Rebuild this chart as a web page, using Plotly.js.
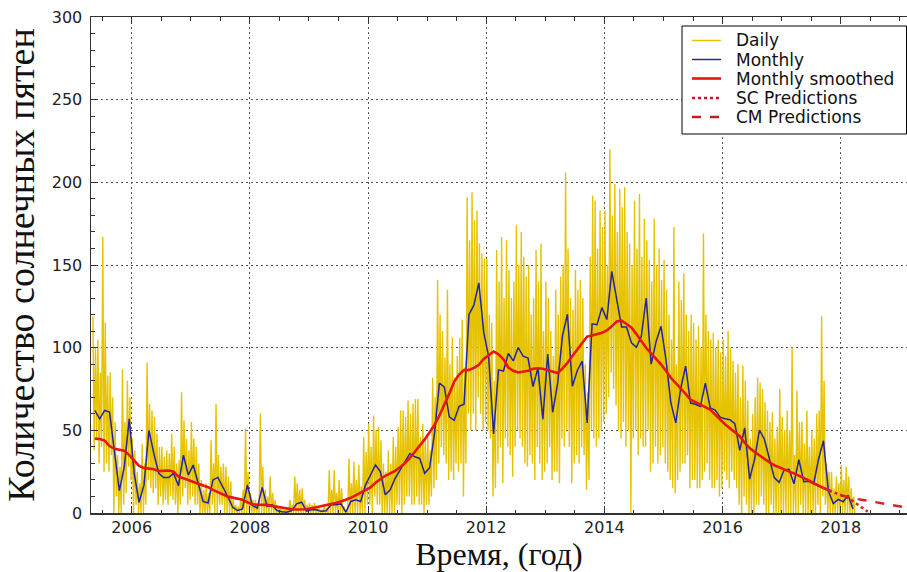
<!DOCTYPE html>
<html><head><meta charset="utf-8">
<script src="https://cdn.plot.ly/plotly-3.0.1.min.js"></script>
<style>html,body{margin:0;padding:0;background:#fff;overflow:hidden}</style>
</head><body><div id="chart" style="width:907px;height:572px"></div>
<script>
// ---- DATA ----
// Daily sunspot number, sampled 4 times per month (May 2005 .. Mar 2018)
const dailyStart = 2005 + 4/12 + 1/96;
const dailyStep = 1/48;
const dailyValues = [
  // 2005 May-Dec
  119,38,100,45, 105,30,85,40, 167,25,115,30, 83,25,85,35, 70,0,55,10, 35,0,28,0, 87,5,55,12, 80,28,70,20,
  // 2006
  45,0,38,5, 25,0,18,0, 42,0,30,5, 91,20,66,15, 62,12,58,15, 48,5,40,10, 40,5,34,8, 38,5,36,10, 48,8,40,5, 30,0,32,5, 73,10,56,15, 45,5,38,8,
  // 2007
  55,10,45,5, 40,5,30,0, 20,0,14,0, 18,0,12,0, 44,5,30,0, 66,0,35,5, 28,5,30,0, 28,0,22,0, 19,0,8,0, 5,0,4,0, 8,0,14,0, 51,0,25,0,
  // 2008
  12,0,8,0, 8,0,6,0, 60,0,28,0, 14,0,10,0, 22,0,12,0, 8,0,4,0, 4,0,2,0, 2,0,3,0, 8,0,5,0, 22,0,18,0, 14,0,15,0, 8,0,5,0,
  // 2009
  6,0,5,0, 6,0,4,0, 3,0,2,0, 5,0,3,0, 26,0,14,0, 26,0,12,0, 20,0,15,0, 4,0,2,0, 33,0,18,0, 31,0,20,0, 29,0,16,0, 46,0,37,5,
  // 2010
  54,5,40,0, 59,10,50,5, 52,5,44,0, 30,0,25,0, 38,0,30,0, 46,0,40,5, 52,5,62,0, 62,5,58,10, 68,10,60,5, 66,5,69,10, 69,5,46,5, 54,0,45,5,
  // 2011
  46,5,38,10, 82,15,70,20, 141,30,120,40, 110,35,94,30, 135,20,90,25, 106,20,82,30, 95,25,106,30, 117,10,88,30, 191,60,165,50, 194,60,177,50, 183,70,163,60, 157,50,154,55,
  // 2012
  154,50,120,45, 115,10,80,15, 159,30,140,40, 167,18,130,45, 165,40,147,35, 130,22,140,40, 174,50,150,45, 170,40,155,30, 143,28,150,35, 120,30,130,20, 159,40,140,30, 163,20,110,25,
  // 2013
  140,30,130,40, 110,20,95,25, 135,25,120,18, 143,45,150,40, 206,50,160,40, 130,18,123,30, 147,35,135,30, 141,40,130,35, 90,14,73,20, 155,50,192,45, 189,40,160,45, 183,50,173,55,
  // 2014
  183,60,150,70, 220,85,180,75, 199,65,170,50, 196,45,185,55, 197,40,170,50, 163,0,150,45, 189,50,160,35, 193,45,155,40, 178,40,165,50, 153,25,140,30, 178,40,150,30, 160,35,141,40,
  // 2015
  153,30,135,25, 120,20,105,15, 173,12,90,20, 140,25,129,30, 145,30,120,35, 110,15,120,20, 115,20,105,15, 113,15,100,20, 169,25,120,30, 110,20,105,15, 109,15,100,20, 105,10,97,15,
  // 2016
  105,25,95,20, 110,15,100,25, 92,20,85,15, 90,5,70,0, 89,10,80,5, 68,0,45,0, 60,0,70,5, 82,5,79,10, 75,5,67,0, 62,0,55,5, 61,0,45,0, 52,0,75,0,
  // 2017
  58,0,50,0, 62,0,50,0, 100,0,35,0, 74,0,55,5, 55,0,42,0, 62,0,40,0, 50,0,45,0, 60,5,62,0, 119,10,80,5, 30,0,25,0, 25,0,15,0, 22,0,18,0,
  // 2018 Jan-Mar
  29,0,20,0, 28,0,22,0, 15,0,10,0
];

// Monthly mean, May 2005 .. Mar 2018 (mid-month)
const monthStart = 2005 + 4.5/12;
const monthStep = 1/12;
const monthlyValues = [
  62,57,62,61,37,13.5,28,57,
  24,6.5,17,50,36,24,21.5,21.5,24,16.5,35,23,
  29,18,7,6,20,21.5,16,10,3.5,1.5,2.5,17,
  4.5,3,15.5,4,5,1.5,0.8,0.5,1.5,5.5,6.5,1.2,
  2,2,1,1.3,5,5,5.5,0.5,7,8,7,17,
  23,29,25,11,14,21,26,31,36,34,33,24,
  27.3,48.3,78.6,76.1,58.2,56.1,64.5,65.8,120.1,125.7,139.1,109.3,
  94.4,47.8,86.6,85.9,96.5,92.0,100.1,94.8,93.7,76.5,87.6,56.8,
  96.1,60.9,78.3,107.3,120.2,76.7,86.2,91.8,54.5,114.4,113.9,124.2,
  117.0,146.1,128.7,112.5,112.5,102.9,100.2,106.9,130.0,90.0,103.6,112.9,
  93.0,66.7,54.5,75.3,88.8,66.5,65.8,64.4,78.6,63.6,62.2,58.0,
  57.0,56.4,54.1,37.9,51.5,20.5,32.4,50.2,44.6,33.4,21.4,18.5,
  26.1,26.4,17.7,32.3,18.9,19.2,17.8,32.6,43.7,13.2,5.7,8.2,
  6.8,10.7,2.5
];

// 13-month smoothed, May 2005 .. Sep 2017
const smoothedValues = [
  45,44.8,43.8,40.5,38.8,38.1,37.6,35,
  32,28.5,27.3,27,26.5,25.3,25.3,25.7,25,22,21,20,
  18.8,17.7,16.7,15.6,14,12.6,11.3,10,9.3,8.6,8,6.5,
  5.2,5.0,5.0,4.9,4.3,3.7,3.2,2.6,2.3,2.1,2.1,2.3,
  2.9,3.6,4.4,5.1,5.5,6,6.9,8.0,9.2,10.7,12.2,13.6,
  15.5,18.3,20.5,22.5,24,25.5,27.7,30.2,33.3,37,40.5,44.5,
  48.8,53.3,59,65.4,72.2,79.4,83.7,86.5,86.5,87.8,89.6,93.2,
  95.6,97.7,96,93,88,86,85,85.3,86,87.2,87.5,87.2,
  86.4,85.5,84.7,87.5,90.8,94.9,98.8,102.8,106.7,107.4,108.2,109,
  110.5,112.9,115.9,116.3,114.3,112.2,108.2,104,99.8,96.5,93.5,89.9,
  86.1,81.8,78.5,75.5,72,68.5,67,65.7,64.5,62.5,59.5,56.5,
  53.7,51.3,49,46.5,42.5,39.3,37,34.8,32.6,30.7,28.9,27.5,
  26.5,25.2,24,22.7,21.4,19.7,18,16.4,15.1
];

// Predictions, from Sep 2017
const predStart = 2017 + 8.5/12;
const scPredictions = [15.1,13.8,12.6,11.4,10.2,9,7.2,5,2.8,0.8];
const cmPredictions = [15.1,13.8,12.6,11.4,10.4,9.6,9,8.4,7.9,7.4,6.9,6.4,5.9,5.4,4.8,4.2,3.7,3.2];

const seriesNames = ['Daily','Monthly','Monthly smoothed','SC Predictions','CM Predictions'];
const xTitle = 'Время, (год)';
const yTitle = 'Количество солнечных пятен';

// ---- STYLE ----
const colDaily = '#E6C300', colMonthly = '#2424a0', colSmooth = '#e8160c', colPred = '#d42424', colPredKey = '#c01c28';
const styles = [
  {color:colDaily, width:1.4},
  {color:colMonthly, width:1.5},
  {color:colSmooth, width:2.6},
  {color:colPred, width:2.5, dash:'dot'},
  {color:colPred, width:2.5, dash:'dash'}
];
const keyStyles = [
  {color:colDaily, width:1.5},
  {color:colMonthly, width:1.5},
  {color:colSmooth, width:2.6},
  {color:colPredKey, width:2.5, dash:'dot'},
  {color:colPredKey, width:2.5, dash:'dash'}
];

// ---- CHART ----
const traces = [
  {type:'scatter', mode:'lines', name:seriesNames[0], x0:dailyStart, dx:dailyStep, y:dailyValues, line:styles[0]},
  {type:'scatter', mode:'lines', name:seriesNames[1], x0:monthStart, dx:monthStep, y:monthlyValues, line:styles[1]},
  {type:'scatter', mode:'lines', name:seriesNames[2], x0:monthStart, dx:monthStep, y:smoothedValues, line:styles[2]},
  {type:'scatter', mode:'lines', name:seriesNames[3], x0:predStart, dx:monthStep, y:scPredictions, line:styles[3]},
  {type:'scatter', mode:'lines', name:seriesNames[4], x0:predStart, dx:monthStep, y:cmPredictions, line:styles[4]}
].map(t => Object.assign(t, {showlegend:false}));

// Legend box drawn in paper coordinates (matplotlib-style key)
const L = 91, B = 513, W = 816, H = 496;
const px = v => (v - L) / W, py = v => (B - v) / H;
const keyRows = [40.5, 59.5, 78.5, 98, 117];
const shapes = [{type:'rect', xref:'paper', yref:'paper', x0:px(682), x1:px(906.5), y0:py(134), y1:py(26),
                 fillcolor:'#fff', line:{color:'#000', width:1}, layer:'above'}];
const annotations = [];
seriesNames.forEach((n, i) => {
  shapes.push({type:'line', xref:'paper', yref:'paper', x0:px(692), x1:px(721), y0:py(keyRows[i]), y1:py(keyRows[i]),
               line:keyStyles[i], layer:'above'});
  annotations.push({xref:'paper', yref:'paper', x:px(734), y:py(keyRows[i]), xanchor:'left', yanchor:'middle',
                    text:n, showarrow:false, font:{family:'DejaVu Sans', size:17, color:'#111'}});
});

const tickFont = {family:'DejaVu Sans', size:16, color:'#222'};

const layout = {
  width:907, height:572,
  margin:{l:91, r:0, t:17, b:59},
  paper_bgcolor:'#fff', plot_bgcolor:'#fff',
  showlegend:false,
  hovermode:false,
  shapes, annotations,
  xaxis:{range:[2005.311, 2019.122], tick0:2006, dtick:2, tickformat:'d',
         ticks:'inside', ticklen:7, tickwidth:1, tickcolor:'#333',
         showline:true, linecolor:'#333', linewidth:1.5, mirror:'allticks',
         showgrid:true, gridcolor:'#555', griddash:'2px,3px', gridwidth:1, zeroline:false,
         tickfont:tickFont, ticklabelstandoff:-1,
         minor:{dtick:0.5, ticks:'inside', ticklen:3.5, tickcolor:'#333', showgrid:false},
         title:{text:xTitle, font:{family:'Liberation Serif', size:32, color:'#111'}, standoff:10}},
  yaxis:{range:[0, 300], dtick:50,
         ticks:'inside', ticklen:7, tickwidth:1, tickcolor:'#333',
         showline:true, linecolor:'#333', linewidth:1.5, mirror:false,
         showgrid:true, gridcolor:'#555', griddash:'2px,3px', gridwidth:1, zeroline:false,
         tickfont:tickFont, ticklabelstandoff:4,
         minor:{dtick:10, ticks:'inside', ticklen:3.5, tickcolor:'#333', showgrid:false},
         title:{text:yTitle, font:{family:'Liberation Serif', size:38, color:'#111'}, standoff:6}}
};

Plotly.newPlot('chart', traces, layout, {staticPlot:true, displayModeBar:false});
</script></body></html>
